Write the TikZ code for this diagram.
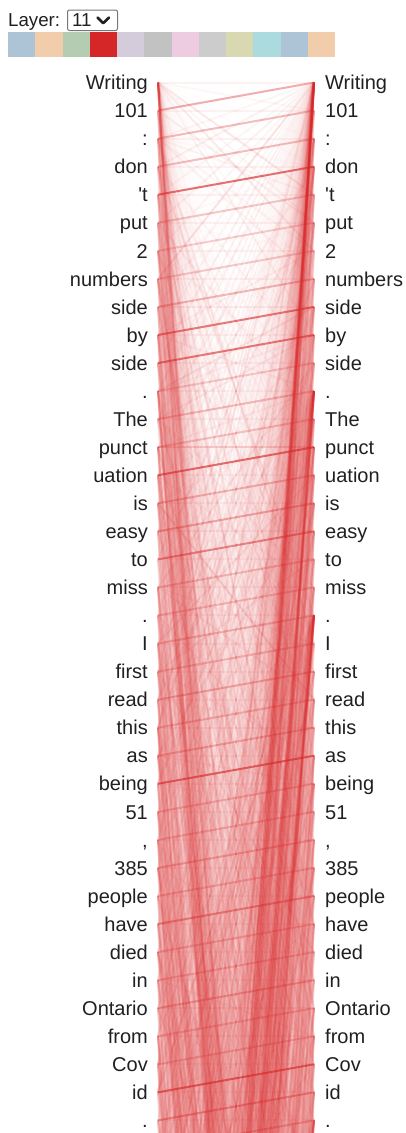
\documentclass[tikz,border=0pt]{standalone}
\usepackage{fontspec}
\setmainfont{Liberation Sans}[Ligatures=TeXOff]
\definecolor{attn}{HTML}{D62728}
\definecolor{tok}{HTML}{202020}
\definecolor{selbrd}{HTML}{767676}
\definecolor{swA}{HTML}{ADC4D7}
\definecolor{swB}{HTML}{F2CDAB}
\definecolor{swC}{HTML}{B4CDB2}
\definecolor{swD}{HTML}{D62728}
\definecolor{swE}{HTML}{D5CCDB}
\definecolor{swF}{HTML}{C2C2C2}
\definecolor{swG}{HTML}{EDCBE0}
\definecolor{swH}{HTML}{CCCCCC}
\definecolor{swI}{HTML}{D8D9B0}
\definecolor{swJ}{HTML}{ACDBDF}
\begin{document}
\begin{tikzpicture}[x=1pt,y=-1pt,
  tokl/.style={anchor=base east, inner sep=0pt, text=tok, font=\fontsize{20}{24}\selectfont},
  tokr/.style={anchor=base west, inner sep=0pt, text=tok, font=\fontsize{20}{24}\selectfont},
  att/.style={draw=attn, line width=2pt},
  swatch/.style={draw=none, minimum width=27.25pt, minimum height=25pt, inner sep=0pt, anchor=north west},
  hdr/.style={inner sep=0pt, text=tok, font=\fontsize{18.7}{22}\selectfont}]
\useasboundingbox (0,0) rectangle (406,1133);
% header
\node[hdr, anchor=base west] (layerlbl) at (8,26.5) {Layer:};
\node[draw=selbrd, line width=1pt, rounded corners=2pt, minimum width=50pt, minimum height=20.5pt, inner sep=0pt, anchor=north west] (sel) at (67,9.5) {};
\node[hdr, anchor=base west] (selval) at (72,26.5) {11};
\coordinate (chA) at (97.5,17.5);
\coordinate (chB) at (103.2,23.2);
\coordinate (chC) at (109,17.5);
\draw[line width=2.6pt, line cap=round, line join=round, tok] (chA) -- (chB) -- (chC);
\foreach \c [count=\k from 0] in {swA,swB,swC,swD,swE,swF,swG,swH,swI,swJ,swA,swB}{
  \node[swatch, fill=\c] (sw\k) at ({8+27.25*\k},31.5) {};
}
% tokens
\foreach \t [count=\i from 0] in {Writing,101,:,don,'t,put,2,numbers,side,by,side,.,The,punct,uation,is,easy,to,miss,.,I,first,read,this,as,being,51,{,},385,people,have,died,in,Ontario,from,Cov,id,.}{
  \pgfmathsetmacro\yy{82.5+28.05*\i}
  \node[tokl] (tl\i) at (148,\yy+7.2) {\t};
  \node[tokr] (tr\i) at (325,\yy+7.2) {\t};
  \coordinate (L\i) at (158,\yy);
  \coordinate (R\i) at (314,\yy);
}
\foreach \i in {38,...,160}{
  \coordinate (L\i) at (158,{82.5+28.05*\i});
  \coordinate (R\i) at (314,{82.5+28.05*\i});
}
\begin{scope}
\clip (150,70) rectangle (322,1133);
\pgfmathsetseed{4711}
% background attention
\foreach \i in {0,...,147}{
  \pgfmathtruncatemacro\jlo{max(0,\i-110)}
  \pgfmathtruncatemacro\jhi{\i<38 ? min(160,\i+110) : 37}
  \ifnum\jlo>\jhi\relax\else
  \foreach \j in {\jlo,...,\jhi}{
    \pgfmathsetmacro\r{rnd}
    \ifdim\r pt<0.27pt
      \pgfmathsetmacro\o{0.014+0.24*rnd*rnd*rnd*rnd}
      \draw[att, draw opacity=\o] (L\i) -- (R\j);
    \fi
  }\fi
}
% same token
\foreach \i in {0,...,40}{ \draw[att, draw opacity=0.06] (L\i) -- (R\i); }
% first token as query attends broadly
\foreach \j in {1,...,110}{ \draw[att, draw opacity=0.015] (L0) -- (R\j); }
% everything attends to first token
\foreach \i in {1,...,110}{ \draw[att, draw opacity=0.045] (L\i) -- (R0); }
% full stops as keys
\foreach \i in {12,...,75}{ \draw[att, draw opacity=0.035] (L\i) -- (R11); }
\foreach \i in {20,...,85}{ \draw[att, draw opacity=0.035] (L\i) -- (R19); }
% a few distant tokens that attend strongly to the sentence starts
\foreach \h/\o in {84/0.3,87/0.4,90/0.35,93/0.25}{
  \draw[att, draw opacity=\o] (L\h) -- (R0);
  \draw[att, draw opacity=0.8*\o] (L\h) -- (R11);
  \draw[att, draw opacity=0.7*\o] (L\h) -- (R19);
  \draw[att, draw opacity=0.5*\o] (L\h) -- (R37);
  \draw[att, draw opacity=0.3*\o] (L0) -- (R\h);
  \draw[att, draw opacity=0.3*\o] (L11) -- (R\h);
}
% previous token
\foreach \i/\o in {1/0.35,2/0.28,3/0.3,4/0.65,5/0.25,6/0.22,7/0.22,8/0.3,9/0.6,10/0.6,11/0.22,12/0.25,13/0.25,14/0.65,15/0.3,16/0.35,17/0.5,18/0.25,19/0.22,20/0.25,21/0.25,22/0.3,23/0.25,24/0.3,25/0.65,26/0.25,27/0.25,28/0.3,29/0.25,30/0.3,31/0.25,32/0.25,33/0.3,34/0.25,35/0.25,36/0.65,37/0.4,38/0.3}{
  \pgfmathtruncatemacro\p{\i-1}
  \draw[att, draw opacity=\o] (L\i) -- (R\p);
}
\end{scope}
\end{tikzpicture}
\end{document}
